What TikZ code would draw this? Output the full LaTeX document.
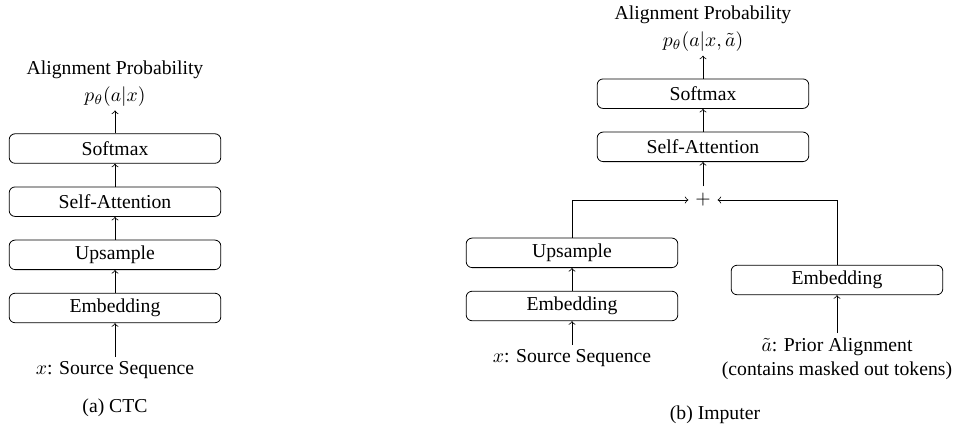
\documentclass[tikz,border=0pt]{standalone}
\usepackage{fontspec}
\setmainfont{Liberation Serif}
\usepackage{tikz}
\usetikzlibrary{shapes,arrows,positioning}
\tikzset{
    block/.style = {draw,
                    rectangle,
                    rounded corners=3pt,
                    minimum height=15pt,
                    minimum width=107.5pt,
                    inner sep=2pt,
                    node distance=27pt
    },
    txt/.style = {align=center,
                  inner sep=2pt
    }
}

\begin{document}
\begin{tikzpicture}[x=0.508pt,y=-0.508pt]
    \useasboundingbox (0,0) rectangle (957,432);

    % (a) CTC
    \node [block] at (115,308)      (ctcemb)  {Embedding};
    \node [block,above of=ctcemb]   (ctcups)  {Upsample};
    \node [block,above of=ctcups]   (ctcatt)  {Self-Attention};
    \node [block,above of=ctcatt]   (ctcsmx)  {Softmax};
    \node [txt,above of=ctcsmx,node distance=33pt]   (ctcout) {Alignment Probability\\[1.5pt]$p_\theta(a|x)$};
    \node [txt,below of=ctcemb,node distance=31.5pt] (ctcsrc) {$x$: Source Sequence};
    \node at (115,408)              (ctccap)  {(a) CTC};

    \draw[->] (ctcsrc) -- (ctcemb);
    \draw[->] (ctcemb) -- (ctcups);
    \draw[->] (ctcups) -- (ctcatt);
    \draw[->] (ctcatt) -- (ctcsmx);
    \draw[->] (ctcsmx) -- (ctcout);

    % (b) Imputer
    \node [block] at (572,306)      (impemb)  {Embedding};
    \node [block,above of=impemb]   (impups)  {Upsample};
    \node [txt,below of=impemb,node distance=26.4pt] (impsrc) {$x$: Source Sequence};
    \node [block] at (837,280)      (impprior) {Embedding};
    \node [txt,below of=impprior,node distance=40pt] (impaln) {$\tilde{a}$: Prior Alignment\\[0.5pt](contains masked out tokens)};
    \node at (703,200)              (impsum)  {$+$};
    \node [block,above of=impsum]   (impatt)  {Self-Attention};
    \node [block,above of=impatt]   (impsmx)  {Softmax};
    \node [txt,above of=impsmx,node distance=33pt]   (impout) {Alignment Probability\\[1.5pt]$p_\theta(a|x,\tilde{a})$};
    \node at (715,415)              (impcap)  {(b) Imputer};

    \draw[->] (impsrc) -- (impemb);
    \draw[->] (impemb) -- (impups);
    \draw[->] (impups) |- (impsum);
    \draw[->] (impaln) -- (impprior);
    \draw[->] (impprior) |- (impsum);
    \draw[->] (impsum) -- (impatt);
    \draw[->] (impatt) -- (impsmx);
    \draw[->] (impsmx) -- (impout);
\end{tikzpicture}
\end{document}
